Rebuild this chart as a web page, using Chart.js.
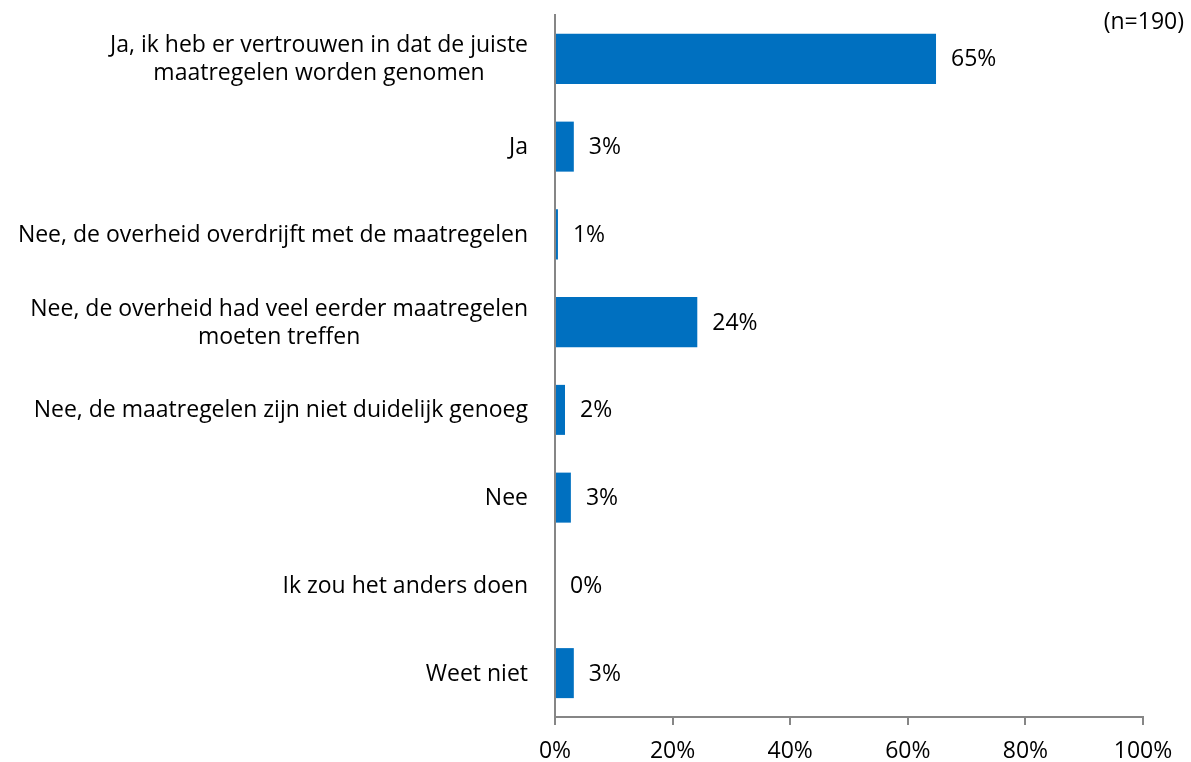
<!DOCTYPE html>
<html>
<head>
<meta charset="utf-8">
<script src="https://cdn.jsdelivr.net/npm/chart.js@4.4.0/dist/chart.umd.min.js"></script>
<style>
  html, body { margin: 0; padding: 0; background: #fff; }
  #wrap { width: 1191px; height: 762px; }
</style>
</head>
<body>
<div id="wrap"><canvas id="chart"></canvas></div>
<script>
// Categories (multi-line labels are arrays of lines)
var categories = [
    ["Ja, ik heb er vertrouwen in dat de juiste", "maatregelen worden genomen"],
    ["Ja"],
    ["Nee, de overheid overdrijft met de maatregelen"],
    ["Nee, de overheid had veel eerder maatregelen", "moeten treffen"],
    ["Nee, de maatregelen zijn niet duidelijk genoeg"],
    ["Nee"],
    ["Ik zou het anders doen"],
    ["Weet niet"]
];
var percentages = [64.8, 3.2, 0.5, 24.2, 1.7, 2.7, 0, 3.2];
var valueLabels = ["65%", "3%", "1%", "24%", "2%", "3%", "0%", "3%"];
var xTicks = [0, 20, 40, 60, 80, 100];
var sampleNote = "(n=190)";

var FONT = "'Open Sans'";
var FSIZE = 23;
var barColor = "#0070C0";

// Category labels: right-aligned block, lines centered within it
var categoryLabels = {
    id: "categoryLabels",
    afterDraw: function (chart) {
        var ctx = chart.ctx;
        var y = chart.scales.y;
        var right = y.right - 27;
        var lh = 28;
        ctx.save();
        ctx.font = FSIZE + "px " + FONT;
        ctx.fillStyle = "#000";
        ctx.textBaseline = "middle";
        ctx.textAlign = "center";
        categories.forEach(function (lines, i) {
            var cy = y.getPixelForTick(i) + 1;
            var w = 0;
            lines.forEach(function (l) { w = Math.max(w, ctx.measureText(l).width); });
            var cx = right - w / 2;
            var y0 = cy - (lines.length - 1) * lh / 2;
            lines.forEach(function (l, k) {
                ctx.fillText(l, cx, y0 + k * lh);
            });
        });
        ctx.restore();
    }
};

// Value labels at the end of each bar, plus sample size note
var valueLabelPlugin = {
    id: "valueLabels",
    afterDatasetsDraw: function (chart) {
        var ctx = chart.ctx;
        var meta = chart.getDatasetMeta(0);
        ctx.save();
        ctx.font = FSIZE + "px " + FONT;
        ctx.fillStyle = "#000";
        ctx.textBaseline = "middle";
        ctx.textAlign = "left";
        meta.data.forEach(function (bar, i) {
            ctx.fillText(valueLabels[i], bar.x + 15, bar.y + 1);
        });
        ctx.textAlign = "right";
        ctx.fillText(sampleNote, 1184, 22);
        ctx.restore();
    }
};

var ctx = document.getElementById("chart").getContext("2d");
var myChart = new Chart(ctx, {
    type: "bar",
    data: {
        labels: categories,
        datasets: [{
            data: percentages,
            backgroundColor: barColor,
            categoryPercentage: 1,
            barPercentage: 0.57
        }]
    },
    options: {
        indexAxis: "y",
        responsive: true,
        maintainAspectRatio: false,
        animation: false,
        layout: { padding: { top: 15, right: 48, left: 0, bottom: 0 } },
        plugins: {
            legend: { display: false },
            tooltip: { enabled: false }
        },
        scales: {
            x: {
                min: 0,
                max: 100,
                afterBuildTicks: function (scale) {
                    scale.ticks = xTicks.map(function (v) { return { value: v }; });
                },
                afterFit: function (scale) { scale.height = 45; },
                border: { display: true, color: "#868686", width: 2 },
                grid: {
                    display: true,
                    drawOnChartArea: false,
                    drawTicks: true,
                    tickLength: 8,
                    color: "#868686",
                    lineWidth: 2
                },
                ticks: {
                    padding: 13,
                    color: "#000",
                    font: { family: "Open Sans", size: FSIZE },
                    callback: function (v) { return v + "%"; }
                }
            },
            y: {
                afterFit: function (scale) { scale.width = 555; },
                border: { display: true, color: "#868686", width: 2 },
                grid: { display: false },
                ticks: { display: false }
            }
        }
    },
    plugins: [categoryLabels, valueLabelPlugin]
});
</script>
</body>
</html>
